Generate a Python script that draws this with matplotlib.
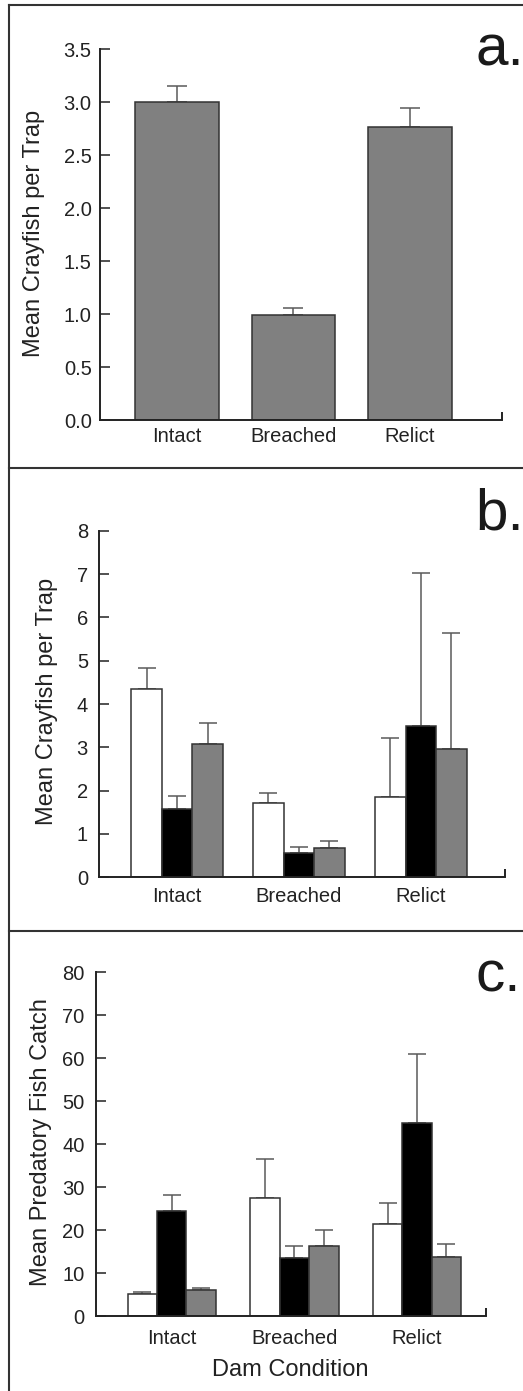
import numpy as np
import matplotlib
matplotlib.use('Agg')
from matplotlib import pyplot as plt
from matplotlib.lines import Line2D

plt.rcParams['font.family'] = ['Liberation Sans', 'DejaVu Sans']

W, H = 523, 1391  # figure size in pixels

# data
conditions = ['Intact', 'Breached', 'Relict']

# panel a: mean crayfish per trap (all seasons)
a_mean = [3.00, 0.99, 2.77]
a_err = [0.15, 0.065, 0.18]

# panel b: crayfish per trap, three groups per condition (white, black, gray)
b_white = [4.34, 1.72, 1.85]
b_white_err = [0.48, 0.22, 1.36]
b_black = [1.58, 0.55, 3.50]
b_black_err = [0.30, 0.14, 3.53]
b_gray = [3.08, 0.68, 2.95]
b_gray_err = [0.47, 0.15, 2.70]

# panel c: predatory fish catch
c_white = [5.1, 27.5, 21.5]
c_white_err = [0.6, 9.1, 4.7]
c_black = [24.4, 13.5, 45.0]
c_black_err = [3.8, 2.9, 16.0]
c_gray = [6.05, 16.4, 13.8]
c_gray_err = [0.55, 3.6, 3.0]

fill_colors = ['white', 'black', '#808080']
edge = '#333333'
err_color = '#5a5a5a'


def px_axes(fig, left, right, ytop, ybot):
    # build an axes from pixel coordinates (y measured from the top)
    return fig.add_axes([left / W, 1 - ybot / H, (right - left) / W, (ybot - ytop) / H])


def style_axes(ax, xlim, ylim, yticks, yfmt, label_pad_x, label_pad_y):
    ax.set_xlim(*xlim)
    ax.set_ylim(*ylim)
    for s in ['top', 'right']:
        ax.spines[s].set_visible(False)
    for s in ['left', 'bottom']:
        ax.spines[s].set_linewidth(1.4)
        ax.spines[s].set_color('#222222')
    ax.set_yticks(yticks)
    ax.set_yticklabels([yfmt.format(v) for v in yticks])
    ax.set_xticks(range(len(conditions)))
    ax.set_xticklabels(conditions)
    ax.tick_params(axis='y', direction='in', length=7, width=1.1, pad=label_pad_y,
                   labelsize=14.5, colors='#222222')
    ax.tick_params(axis='x', length=0, pad=label_pad_x, labelsize=14.5, colors='#222222')
    # small closing tick at the right end of the x axis
    ax.set_xticks([xlim[1]], minor=True)
    ax.tick_params(axis='x', which='minor', direction='in', length=6, width=1.4,
                   color='#222222')
    ax.patch.set_alpha(0)


def grouped(ax, series, errs, width):
    x = np.arange(len(conditions))
    offsets = [-width, 0, width]
    for vals, e, col, off in zip(series, errs, fill_colors, offsets):
        ax.bar(x + off, vals, width, color=col, edgecolor=edge, linewidth=1.1, zorder=2)
        ax.errorbar(x + off, vals, yerr=[np.zeros(len(vals)), e], fmt='none',
                    ecolor=err_color, elinewidth=1.1, capsize=6.5, capthick=1.1, zorder=1)


fig = plt.figure(figsize=(W / 100, H / 100), dpi=100)

# panel a
ax1 = px_axes(fig, 100, 502, 49.3, 420)
x = np.arange(len(conditions))
ax1.bar(x, a_mean, 0.716, color='#808080', edgecolor=edge, linewidth=1.1, zorder=2)
ax1.errorbar(x, a_mean, yerr=[np.zeros(3), a_err], fmt='none', ecolor=err_color,
             elinewidth=1.1, capsize=7.5, capthick=1.1, zorder=1)
style_axes(ax1, (-0.66, 2.79), (0, 3.5), np.arange(0, 3.51, 0.5), '{:.1f}', 5, 6)
ax1.set_ylabel('Mean Crayfish per Trap', fontsize=17, color='#222222')
ax1.yaxis.set_label_coords(45 / W, 1 - 233 / H, transform=fig.transFigure)

# panel b
ax2 = px_axes(fig, 99, 505, 530.7, 877.3)
grouped(ax2, [b_white, b_black, b_gray], [b_white_err, b_black_err, b_gray_err], 0.25)
style_axes(ax2, (-0.64, 2.69), (0, 8), np.arange(0, 9, 1), '{:.0f}', 7, 8)
ax2.set_ylabel('Mean Crayfish per Trap', fontsize=17, color='#222222')
ax2.yaxis.set_label_coords(58 / W, 1 - 701 / H, transform=fig.transFigure)

# panel c
ax3 = px_axes(fig, 95.7, 485.7, 972.3, 1316)
grouped(ax3, [c_white, c_black, c_gray], [c_white_err, c_black_err, c_gray_err], 0.24)
style_axes(ax3, (-0.62, 2.56), (0, 80), np.arange(0, 81, 10), '{:.0f}', 9, 8)
ax3.set_ylabel('Mean Predatory Fish Catch', fontsize=17, color='#222222')
ax3.yaxis.set_label_coords(52 / W, 1 - 1142 / H, transform=fig.transFigure)
fig.text(290 / W, 1 - 1370 / H, 'Dam Condition', fontsize=17, ha='center', va='center',
         color='#222222')

# panel letters
for lab, yb in [('a.', 65), ('b.', 530), ('c.', 991)]:
    fig.text(475 / W, 1 - yb / H, lab, fontsize=42, ha='left', va='baseline',
             color='#1a1a1a')

# panel frames
frame = dict(color='#333333', linewidth=1.5, transform=fig.transFigure)
for yl in [4.5, 467.5, 931.3]:
    fig.add_artist(Line2D([9 / W, 1], [1 - yl / H, 1 - yl / H], **frame))
fig.add_artist(Line2D([9 / W, 9 / W], [1 - 4.5 / H, 0], **frame))

plt.savefig('out.png', dpi=100)
